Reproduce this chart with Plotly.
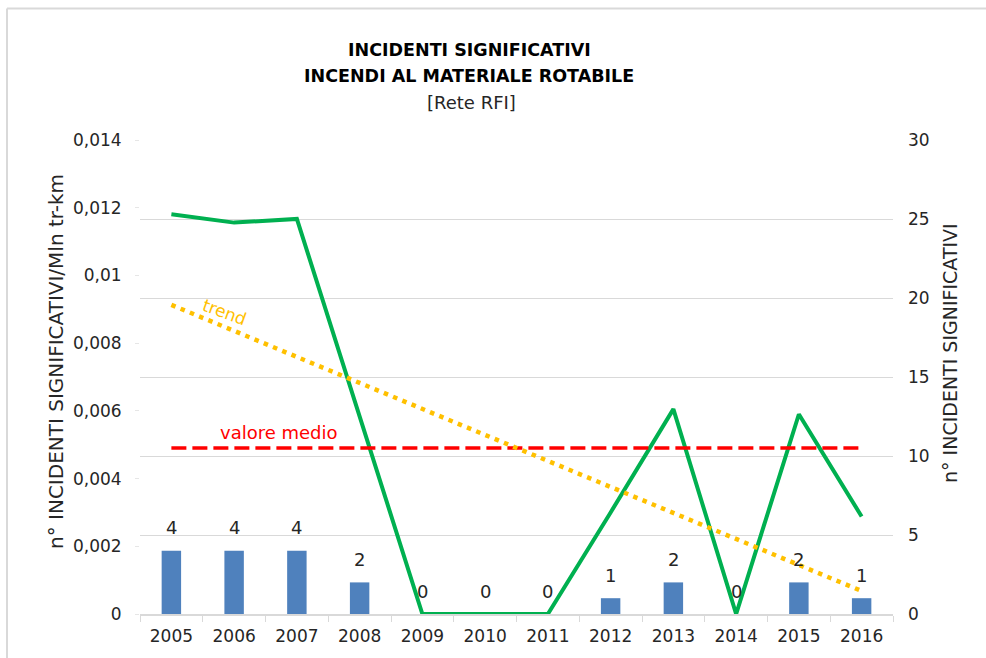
import plotly.graph_objects as go

years = ["2005", "2006", "2007", "2008", "2009", "2010", "2011", "2012", "2013", "2014", "2015", "2016"]
incidents = [4, 4, 4, 2, 0, 0, 0, 1, 2, 0, 2, 1]
rate = [0.01181, 0.01156, 0.01167, 0.0058, 0, 0, 0, 0.0030, 0.00605, 0, 0.0059, 0.00288]
mean_rate = [0.0049] * 12
trend_years = ["2005", "2016"]
trend_vals = [0.00913, 0.00068]

left_ticks = [0, 0.002, 0.004, 0.006, 0.008, 0.01, 0.012, 0.014]
left_ticktext = ["0", "0,002", "0,004", "0,006", "0,008", "0,01", "0,012", "0,014"]
right_ticks = [0, 5, 10, 15, 20, 25, 30]

FONT = "DejaVu Sans, sans-serif"
TXT = "#262626"

W, H = 986, 658
L, R, T, B = 140, 93, 140, 44
PW, PH = W - L - R, H - T - B


def px(x):
    return (x - L) / PW


def py(y):
    return (H - B - y) / PH


fig = go.Figure()

fig.add_trace(go.Bar(
    x=years, y=incidents, yaxis="y", marker=dict(color="#4F81BD", line=dict(width=0)),
    width=0.31, hoverinfo="skip", showlegend=False,
))

fig.add_trace(go.Scatter(
    x=years, y=rate, yaxis="y2", mode="lines",
    line=dict(color="#00B050", width=4), showlegend=False,
))
fig.add_trace(go.Scatter(
    x=years, y=mean_rate, yaxis="y2", mode="lines",
    line=dict(color="#FF0000", width=3.5, dash="15px,6px"), showlegend=False,
))
fig.add_trace(go.Scatter(
    x=trend_years, y=trend_vals, yaxis="y2", mode="lines",
    line=dict(color="#FFC000", width=4.5, dash="4.5px,5.5px"), showlegend=False,
))

annotations = []
for i, v in enumerate(incidents):
    annotations.append(dict(
        x=i, y=v, xref="x", yref="y", text=str(v), showarrow=False,
        yanchor="middle", yshift=23, font=dict(family=FONT, size=18, color=TXT),
    ))

annotations += [
    dict(x=px(469), y=py(50), xref="paper", yref="paper", text="<b>INCIDENTI SIGNIFICATIVI</b>",
         showarrow=False, font=dict(family=FONT, size=17.5, color="#000000"), yanchor="middle"),
    dict(x=px(469), y=py(76), xref="paper", yref="paper", text="<b>INCENDI AL MATERIALE ROTABILE</b>",
         showarrow=False, font=dict(family=FONT, size=17.5, color="#000000"), yanchor="middle"),
    dict(x=px(471), y=py(103), xref="paper", yref="paper", text="[Rete RFI]",
         showarrow=False, font=dict(family=FONT, size=18, color=TXT), yanchor="middle"),
    dict(x=px(42), y=py(362), xref="paper", yref="paper", text="n° INCIDENTI SIGNIFICATIVI/Mln tr-km",
         showarrow=False, textangle=-90, font=dict(family=FONT, size=20, color=TXT)),
    dict(x=px(963), y=py(353), xref="paper", yref="paper", text="n° INCIDENTI SIGNIFICATIVI",
         showarrow=False, textangle=-90, font=dict(family=FONT, size=19, color=TXT)),
    dict(x=px(197), y=py(292), xref="paper", yref="paper", text="trend",
         showarrow=False, textangle=20, font=dict(family=FONT, size=17, color="#FFC000")),
    dict(x=px(218), y=py(432), xref="paper", yref="paper", text="valore medio",
         showarrow=False, font=dict(family=FONT, size=18, color="#FF0000")),
]

shapes = [
    dict(type="line", xref="paper", yref="paper", x0=px(7), x1=px(W), y0=py(8.5), y1=py(8.5),
         line=dict(color="#D9D9D9", width=2)),
    dict(type="line", xref="paper", yref="paper", x0=px(7), x1=px(7), y0=py(8.5), y1=py(H),
         line=dict(color="#D9D9D9", width=2)),
]

fig.update_layout(
    width=W, height=H,
    margin=dict(l=L, r=R, t=T, b=B, autoexpand=False),
    paper_bgcolor="white", plot_bgcolor="white",
    font=dict(family=FONT, size=15, color=TXT),
    separators=",.",
    showlegend=False,
    xaxis=dict(
        type="category", showgrid=False, showline=True, linecolor="#D9D9D9", linewidth=1.5,
        ticks="outside", tickson="boundaries", ticklen=6, tickcolor="#D9D9D9",
        tickfont=dict(family=FONT, size=17, color=TXT), range=[-0.5, 11.5],
        ticklabelstandoff=6,
    ),
    yaxis=dict(
        side="right", range=[0, 30], tickvals=right_ticks, showgrid=True,
        gridcolor="#D9D9D9", gridwidth=1, zeroline=False, showline=False,
        tickfont=dict(family=FONT, size=17, color=TXT), ticks="", ticklabelstandoff=14,
    ),
    yaxis2=dict(
        side="left", overlaying="y", range=[0, 0.014], tickvals=left_ticks, ticktext=left_ticktext,
        showgrid=False, zeroline=False, showline=False, ticks="outside", ticklen=4,
        tickcolor="#E6E6E6", tickfont=dict(family=FONT, size=17, color=TXT), ticklabelstandoff=10,
    ),
    annotations=annotations,
    shapes=shapes,
)

fig.write_html("out.html", config={"displayModeBar": False},
               post_script="document.body.style.margin='0';")
